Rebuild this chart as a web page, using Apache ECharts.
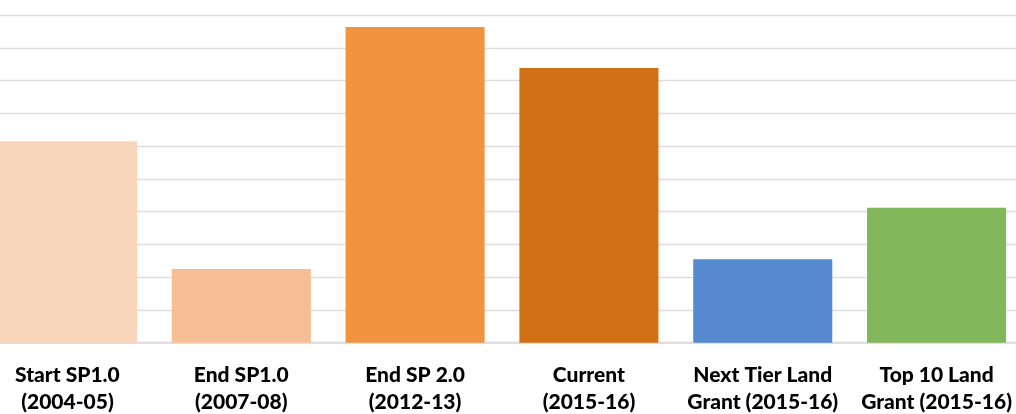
<!DOCTYPE html>
<html>
<head>
<meta charset="utf-8">
<script src="https://cdn.jsdelivr.net/npm/echarts@6/dist/echarts.min.js"></script>
<style>
  html, body { margin: 0; padding: 0; background: #ffffff; overflow: hidden; width: 1016px; height: 414px; position: relative; }
  /* plot is slightly wider than the page so the outer bars run off both edges */
  #chart { position: absolute; left: -20px; top: 0; width: 1044px; height: 414px; }
</style>
</head>
<body>
<div id="chart"></div>
<script>
// Category labels (two lines each)
const categories = [
  'Start SP1.0\n(2004-05)',
  'End SP1.0\n(2007-08)',
  'End SP 2.0\n(2012-13)',
  'Current\n(2015-16)',
  'Next Tier Land\nGrant (2015-16)',
  'Top 10 Land\nGrant (2015-16)'
];

// Bar heights
const values = [6.15, 2.25, 9.63, 8.38, 2.55, 4.12];

// One fill per bar
const barColors = ['#F9D5BB', '#F6BE94', '#F29342', '#D17014', '#558AD1', '#82B85B'];

// Value axis range
const axisMin = 0;
const axisMax = 10;
const axisStep = 1;

const chart = echarts.init(document.getElementById('chart'), null, { renderer: 'canvas' });

chart.setOption({
  animation: false,
  backgroundColor: '#ffffff',
  grid: { left: 0.5, right: 0.5, top: 15, bottom: 71.3, containLabel: false, outerBoundsMode: 'none' },
  xAxis: {
    type: 'category',
    data: categories,
    axisTick: { show: false },
    axisLine: { show: true, lineStyle: { color: '#D9D9D9', width: 1.5 } },
    axisLabel: {
      interval: 0,
      margin: 19,
      color: '#000000',
      fontFamily: 'Lato',
      fontWeight: 900,
      fontSize: 21,
      lineHeight: 27,
      align: 'center'
    }
  },
  yAxis: {
    type: 'value',
    min: axisMin,
    max: axisMax,
    interval: axisStep,
    axisLabel: { show: false },
    axisLine: { show: false },
    axisTick: { show: false },
    splitLine: { show: true, lineStyle: { color: '#DEDEDE', width: 1.3 } }
  },
  series: [{
    type: 'bar',
    data: values.map((v, i) => ({ value: v, itemStyle: { color: barColors[i] } })),
    barCategoryGap: '20%'
  }]
});
</script>
</body>
</html>
